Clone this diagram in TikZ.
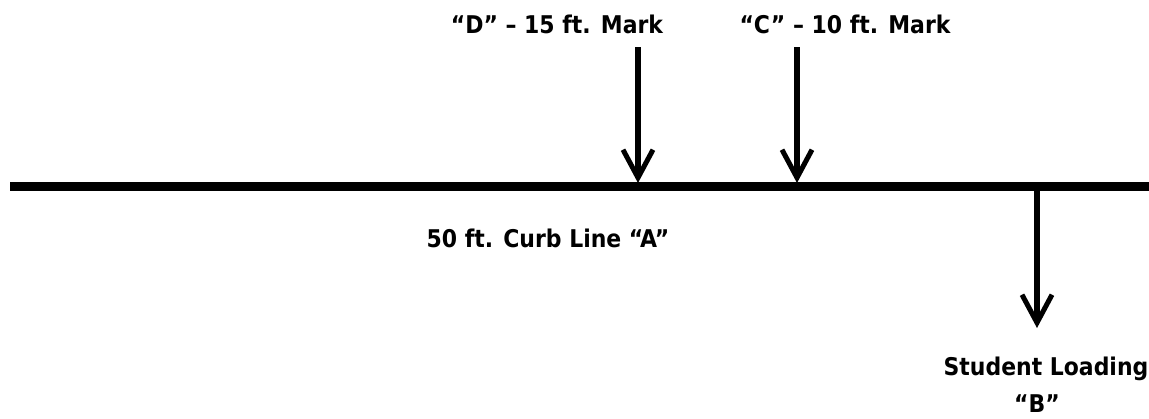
\documentclass[tikz,border=0pt]{standalone}
\usepackage{fontspec}
\setmainfont{DejaVu Sans Condensed}
\usetikzlibrary{arrows.meta}
\tikzset{
  label text/.style={font=\bfseries\fontsize{24.4}{28}\selectfont, inner sep=0pt, anchor=base},
  pointer/.style={line width=6pt, -{Straight Barb[length=28pt, width=30pt, line width=5pt]}}
}
\begin{document}
\begin{tikzpicture}[x=1pt, y=-1pt]
      \useasboundingbox (0,0) rectangle (1149,418);
      % curb line
      \coordinate (west) at (10,186.5);
      \coordinate (east) at (1149,186.5);
      \draw[line width=9pt] (west) -- (east);
      % labels
      \node[label text] (D) at (557,33) {“D” – 15 ft. Mark};
      \node[label text] (C) at (845,33) {“C” – 10 ft. Mark};
      \node[label text] (A) at (548,247) {50 ft. Curb Line “A”};
      \node[label text] (B1) at (1046,375) {Student Loading};
      \node[label text] (B2) at (1037,412) {“B”};
      % arrow ends
      \coordinate (Dtop) at (638,47);
      \coordinate (Dtip) at (638,183);
      \coordinate (Ctop) at (797,47);
      \coordinate (Ctip) at (797,183);
      \coordinate (Btop) at (1037,190);
      \coordinate (Btip) at (1037,328);
      \begin{scope}[pointer]
        \draw (Dtop) to (Dtip);
        \draw (Ctop) to (Ctip);
        \draw (Btop) to (Btip);
      \end{scope}
    \end{tikzpicture}
\end{document}
